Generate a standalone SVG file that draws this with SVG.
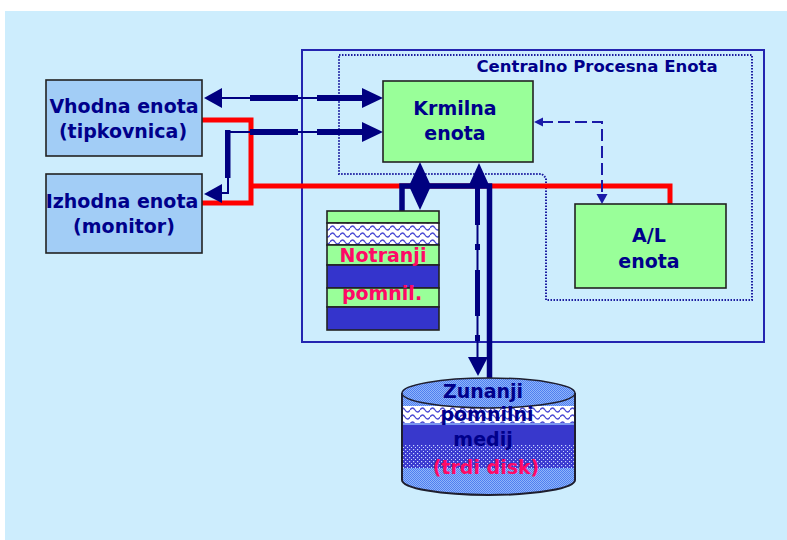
<svg xmlns="http://www.w3.org/2000/svg" width="787" height="540" viewBox="0 0 787 540">
<style>
.t{font-family:"DejaVu Sans",Verdana,sans-serif;font-weight:bold;text-anchor:middle}
.nv{fill:#00008b;font-size:19px}
.pk{fill:#ff0a66;font-size:19px}
.box{stroke:#222;stroke-width:1.6}
.grn{fill:#99ff99}
.lb{fill:#a2cdf6}
.blu{fill:#3434cc}
.nav{fill:#000080}
.bus{stroke:#000080;fill:none}
</style>
<defs>
<pattern id="wave" width="10" height="7" patternUnits="userSpaceOnUse">
<rect width="10" height="7" fill="#ffffff"/>
<path d="M0,4 Q2.5,0 5,4 T10,4" fill="none" stroke="#4848d4" stroke-width="1.3"/>
</pattern>
<pattern id="chk" width="2" height="2" patternUnits="userSpaceOnUse">
<rect width="2" height="2" fill="#8fb4fa"/>
<rect width="1" height="1" fill="#4f7ff0"/>
<rect x="1" y="1" width="1" height="1" fill="#4f7ff0"/>
</pattern>
<pattern id="dots" width="4" height="4" patternUnits="userSpaceOnUse">
<rect width="4" height="4" fill="#3a3ad0"/>
<rect x="1" y="1" width="1.2" height="1.2" fill="#c8d6ff"/>
<rect x="3" y="3" width="1.2" height="1.2" fill="#c8d6ff"/>
</pattern>
<clipPath id="cyl">
<path d="M402,393 A86.5,15 0 0 1 575,393 V480 A86.5,15 0 0 1 402,480 Z"/>
</clipPath>
</defs>

<rect x="5" y="11" width="782" height="529" fill="#cdedfd"/>

<g id="cpu">
<rect x="302" y="50" width="462" height="292" fill="none" stroke="#2424b0" stroke-width="2"/>
<path d="M339,55 H752 V300 H546 V178 L542,174 H339 Z" fill="none" stroke="#1c1ca0" stroke-width="2" stroke-dasharray="1.5 1.5"/>
<text class="t" x="597" y="72" fill="#00008b" font-size="16.5px">Centralno Procesna Enota</text>
</g>

<g id="connectors">
<path d="M202,120 H251 V203 H202 M251,186 H670 V204" fill="none" stroke="#ff0000" stroke-width="5"/>
<!-- top bidirectional arrow -->
<line x1="222" y1="98" x2="362" y2="98" stroke="#000080" stroke-width="2"/>
<rect x="250" y="95" width="48" height="6" class="nav"/>
<rect x="317" y="95" width="45" height="6" class="nav"/>
<polygon points="204,98 222,88 222,108" class="nav"/>
<polygon points="383,98 362,88 362,108" class="nav"/>
<!-- second arrow -->
<line x1="228" y1="132" x2="362" y2="132" stroke="#000080" stroke-width="2"/>
<rect x="250" y="129" width="48" height="6" class="nav"/>
<rect x="317" y="129" width="45" height="6" class="nav"/>
<polygon points="383,132 362,122 362,142" class="nav"/>
<rect x="225" y="130" width="5.5" height="48" class="nav"/>
<path d="M228,178 V193 H222" class="bus" stroke-width="2"/>
<polygon points="204,194 222,184 222,203" class="nav"/>
<!-- Krmilna to A/L dashed -->
<path d="M541,122 H602 V196" fill="none" stroke="#1a1aa8" stroke-width="2" stroke-dasharray="12 5"/>
<polygon points="534,122 543,117.5 543,126.5" fill="#1a1aa8"/>
<polygon points="602,204 596.5,194 607.5,194" fill="#1a1aa8"/>
<!-- bus to memory and disk -->
<path d="M402,211 V186 H489.5 V378" class="bus" stroke-width="5.5"/>
<polygon points="420,162 431,186 420,210 409,186" class="nav"/>
<polygon points="479,163 489,185 469,185" class="nav"/>
<line x1="477.5" y1="185" x2="477.5" y2="358" stroke="#000080" stroke-width="2"/>
<rect x="475" y="185" width="5" height="40" class="nav"/>
<rect x="475" y="244" width="5" height="6" class="nav"/>
<rect x="475" y="270" width="5" height="46" class="nav"/>
<rect x="475" y="335" width="5" height="6" class="nav"/>
<polygon points="468,357 488,357 478,376" class="nav"/>
</g>

<g id="vhodna">
<rect x="46" y="80" width="156" height="76" class="box lb"/>
<text class="t nv" x="124" y="113" font-size="18px">Vhodna enota</text>
<text class="t nv" x="123" y="138">(tipkovnica)</text>
</g>

<g id="izhodna">
<rect x="46" y="174" width="156" height="79" class="box lb"/>
<text class="t nv" x="122" y="208">Izhodna enota</text>
<text class="t nv" x="124" y="233">(monitor)</text>
</g>

<g id="krmilna">
<rect x="383" y="81" width="150" height="81" class="box grn"/>
<text class="t nv" x="455" y="115">Krmilna</text>
<text class="t nv" x="455" y="140">enota</text>
</g>

<g id="al">
<rect x="575" y="204" width="151" height="84" class="box grn"/>
<text class="t nv" x="649" y="242">A/L</text>
<text class="t nv" x="649" y="268">enota</text>
</g>

<g id="notranji">
<rect x="327" y="211" width="112" height="12" class="box grn"/>
<rect x="327" y="223" width="112" height="22" class="box" fill="url(#wave)"/>
<rect x="327" y="245" width="112" height="20" class="box grn"/>
<rect x="327" y="265" width="112" height="23" class="box blu"/>
<rect x="327" y="288" width="112" height="19" class="box grn"/>
<rect x="327" y="307" width="112" height="23" class="box blu"/>
<text class="t pk" x="383" y="262">Notranji</text>
<text class="t pk" x="382" y="300" font-size="18px">pomnil.</text>
</g>

<g id="disk">
<g clip-path="url(#cyl)">
<rect x="400" y="375" width="180" height="125" fill="url(#chk)"/>
<rect x="400" y="406" width="180" height="17" fill="url(#wave)"/>
<rect x="400" y="423" width="180" height="22" fill="#3838cc"/>
<line x1="400" y1="424" x2="580" y2="424" stroke="#8fb4fa" stroke-width="1.5"/>
<rect x="400" y="445" width="180" height="23" fill="url(#dots)"/>
</g>
<path d="M402,393 V480 A86.5,15 0 0 0 575,480 V393" fill="none" stroke="#1e1e2e" stroke-width="2"/>
<ellipse cx="488.5" cy="393" rx="86.5" ry="15" fill="url(#chk)" stroke="#1e1e2e" stroke-width="1.5"/>
<text class="t nv" x="483" y="398">Zunanji</text>
<text class="t nv" x="487" y="421" font-size="18px">pomnilni</text>
<text class="t nv" x="483" y="446">medij</text>
<text class="t pk" x="486" y="474">(trdi disk)</text>
</g>
</svg>
